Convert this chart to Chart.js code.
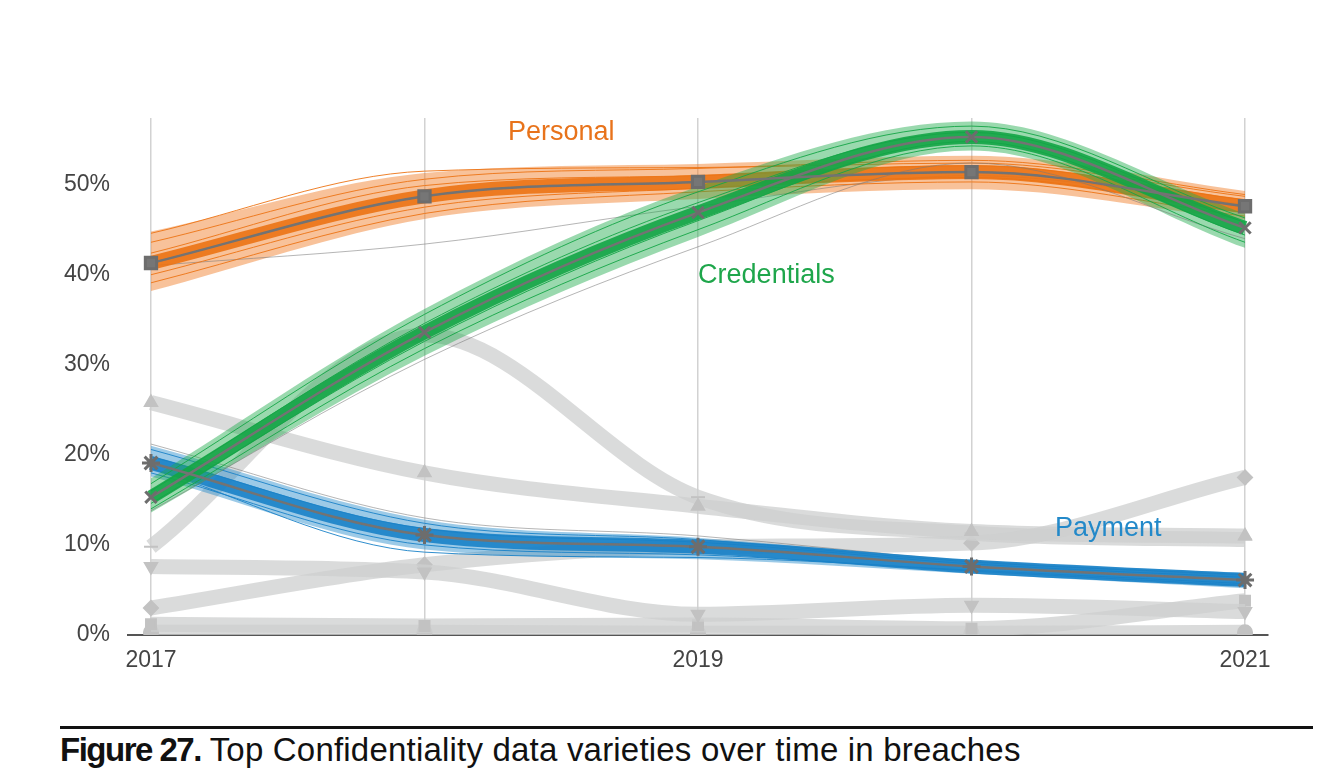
<!DOCTYPE html>
<html>
<head>
<meta charset="utf-8">
<script src="https://cdn.jsdelivr.net/npm/chart.js@4.4.0/dist/chart.umd.min.js"></script>
<style>
    body { margin: 0; background: #fff; width: 1322px; height: 782px; overflow: hidden; font-family: "Liberation Sans", Arial, sans-serif; }
    #wrap { position: absolute; left: 0; top: 0; width: 1322px; height: 700px; }
    #rule { position: absolute; left: 60px; top: 726px; width: 1253px; height: 3px; background: #111; }
    #caption { position: absolute; left: 60px; top: 731px; font-size: 33px; color: #111; white-space: nowrap; letter-spacing: 0.2px; }
    #caption b { letter-spacing: -1.5px; }
</style>
</head>
<body>
<div id="wrap"><canvas id="grafico" width="1322" height="700"></canvas></div>
<div id="rule"></div>
<div id="caption"><b>Figure 27.</b> Top Confidentiality data varieties over time in breaches</div>

<script>
// anos e ticks
const years = [2017, 2018, 2019, 2020, 2021];
const yTicks = [0, 10, 20, 30, 40, 50];

// series destacadas (mediana, limite inferior, limite superior)
const personal = [41.3, 48.7, 50.3, 51.4, 47.6];
const personalLow = [38.2, 46.2, 48.4, 49.5, 46.1];
const personalHigh = [44.8, 51.3, 52.3, 53.2, 49.3];
const personalSamples = [
    [43.6, 50.6, 51.8, 52.7, 48.9],
    [39.1, 46.8, 49.2, 50.3, 46.5],
    [42.4, 49.9, 51.0, 52.1, 48.3],
    [40.0, 47.5, 49.6, 50.8, 46.9],
    [44.6, 51.5, 51.9, 52.4, 48.7],
    [41.0, 43.4, 47.6, 51.0, 47.8]
];

const credentials = [15.3, 33.6, 46.9, 55.3, 45.2];
const credentialsLow = [13.6, 31.0, 44.2, 53.8, 43.0];
const credentialsHigh = [17.4, 36.2, 49.8, 57.0, 46.8];
const credentialsSamples = [
    [16.8, 35.6, 49.2, 56.5, 46.3],
    [14.0, 31.8, 45.0, 54.3, 43.6],
    [16.0, 34.6, 48.0, 55.8, 45.8],
    [14.6, 32.6, 46.0, 54.8, 44.4],
    [13.8, 30.6, 43.1, 52.4, 44.0]
];

const payment = [19.1, 11.1, 9.8, 7.6, 6.1];
const paymentLow = [17.6, 9.5, 8.4, 6.8, 5.2];
const paymentHigh = [21.0, 12.8, 10.8, 8.3, 6.9];
const paymentSamples = [
    [20.6, 12.4, 10.6, 8.1, 6.7],
    [18.0, 10.0, 8.9, 7.1, 5.5],
    [19.8, 11.8, 10.3, 7.9, 6.4],
    [18.5, 9.2, 8.6, 7.2, 5.7],
    [21.2, 13.0, 11.0, 8.2, 6.6]
];

// outras variedades (cinza)
const grey1 = [25.8, 18.0, 14.3, 11.5, 11.0];
const grey2 = [9.8, 33.3, 15.3, 11.3, 10.6];
const grey3 = [7.6, 7.0, 2.3, 3.3, 2.6];
const grey4 = [3.0, 7.8, 9.8, 10.2, 17.5];
const grey5 = [1.2, 1.0, 1.1, 0.7, 3.8];
const grey6 = [0.3, 0.3, 0.2, 0.2, 0.3];

// rotulos das series
const seriesLabels = ['Personal', 'Credentials', 'Payment'];
const labelX = [2018.5, 2019.25, 2020.5];
const labelY = [55.8, 39.9, 11.8];
const labelColors = ['#e8731b', '#1ea64b', '#2389c9'];

function pts(values) {
    return values.map((v, i) => ({ x: years[i], y: v }));
}

function greyLine(values, style, rot) {
    return {
        data: pts(values),
        borderColor: 'rgba(205, 207, 207, 0.75)',
        borderWidth: 15,
        pointStyle: style,
        rotation: rot || 0,
        pointRadius: 7,
        pointBackgroundColor: '#c2c2c2',
        pointBorderColor: '#c2c2c2',
        pointBorderWidth: 2,
        order: 100
    };
}

function bandSets(low, high, samples, median, fillColor, lineColor, order) {
    const sets = [
        { data: pts(low), borderWidth: 0, borderColor: 'transparent', pointRadius: 0, fill: false, order: order },
        { data: pts(high), borderWidth: 0, borderColor: 'transparent', pointRadius: 0, fill: '-1', backgroundColor: fillColor, order: order }
    ];
    samples.forEach((s, i) => {
        sets.push({
            data: pts(s),
            borderColor: i === samples.length - 1 ? 'rgba(120,120,120,0.55)' : lineColor,
            borderWidth: 1,
            pointRadius: 0,
            order: order - 1
        });
    });
    sets.push({ data: pts(median), borderColor: lineColor, borderWidth: 14, pointRadius: 0, order: order - 2 });
    return sets;
}

function medianLine(values, style, radius) {
    return {
        data: pts(values),
        borderColor: '#737373',
        borderWidth: 2.5,
        pointStyle: style,
        pointRadius: radius,
        pointBackgroundColor: '#767676',
        pointBorderColor: '#6d6d6d',
        pointBorderWidth: 3,
        order: 1
    };
}

const datasets = [
    greyLine(grey1, 'triangle'),
    greyLine(grey2, 'line'),
    greyLine(grey3, 'triangle', 180),
    greyLine(grey4, 'rectRot'),
    greyLine(grey5, 'rect'),
    greyLine(grey6, 'circle'),
    ...bandSets(paymentLow, paymentHigh, paymentSamples, payment, 'rgba(35,137,201,0.45)', 'rgba(25,130,200,0.9)', 60),
    ...bandSets(personalLow, personalHigh, personalSamples, personal, 'rgba(240,120,30,0.45)', 'rgba(236,115,20,0.9)', 50),
    ...bandSets(credentialsLow, credentialsHigh, credentialsSamples, credentials, 'rgba(30,170,75,0.45)', 'rgba(20,165,70,0.9)', 40),
    medianLine(payment, 'star', 9),
    medianLine(personal, 'rect', 8),
    medianLine(credentials, 'crossRot', 8)
];

// plugin para escrever o nome de cada serie
const seriesLabelPlugin = {
    id: 'seriesLabels',
    afterDatasetsDraw(chart) {
        const ctx = chart.ctx;
        const xs = chart.scales.x, ys = chart.scales.y;
        ctx.save();
        ctx.font = '27px "Liberation Sans", Arial, sans-serif';
        ctx.textAlign = 'center';
        ctx.textBaseline = 'middle';
        seriesLabels.forEach((t, i) => {
            ctx.fillStyle = labelColors[i];
            ctx.fillText(t, xs.getPixelForValue(labelX[i]), ys.getPixelForValue(labelY[i]));
        });
        ctx.restore();
    }
};

const grafico = new Chart(document.getElementById('grafico'), {
    type: 'line',
    data: { datasets: datasets },
    plugins: [seriesLabelPlugin],
    options: {
        responsive: false,
        animation: false,
        devicePixelRatio: 1,
        layout: { padding: { top: 118, right: 54, left: 0, bottom: 0 } },
        elements: { line: { cubicInterpolationMode: 'monotone' } },
        scales: {
            x: {
                type: 'linear',
                min: 2016.916,
                max: 2021.084,
                afterBuildTicks: s => { s.ticks = years.map(v => ({ value: v })); },
                afterFit: s => { s.height = 65; },
                ticks: {
                    autoSkip: false,
                    maxRotation: 0,
                    padding: 12,
                    color: '#444',
                    font: { size: 23, family: '"Liberation Sans", Arial, sans-serif' },
                    callback: v => (v % 2 === 1 ? String(v) : '')
                },
                grid: { color: '#d2d2d2', lineWidth: 1.5, drawTicks: false },
                border: { display: true, color: '#555', width: 2 }
            },
            y: {
                min: 0,
                max: 57.4,
                afterBuildTicks: s => { s.ticks = yTicks.map(v => ({ value: v })); },
                afterFit: s => { s.width = 128; },
                ticks: {
                    padding: 18,
                    color: '#444',
                    font: { size: 23, family: '"Liberation Sans", Arial, sans-serif' },
                    callback: v => v + '%'
                },
                grid: { display: false, drawTicks: false },
                border: { display: false }
            }
        },
        plugins: {
            legend: { display: false },
            tooltip: { enabled: false }
        }
    }
});
</script>
</body>
</html>
